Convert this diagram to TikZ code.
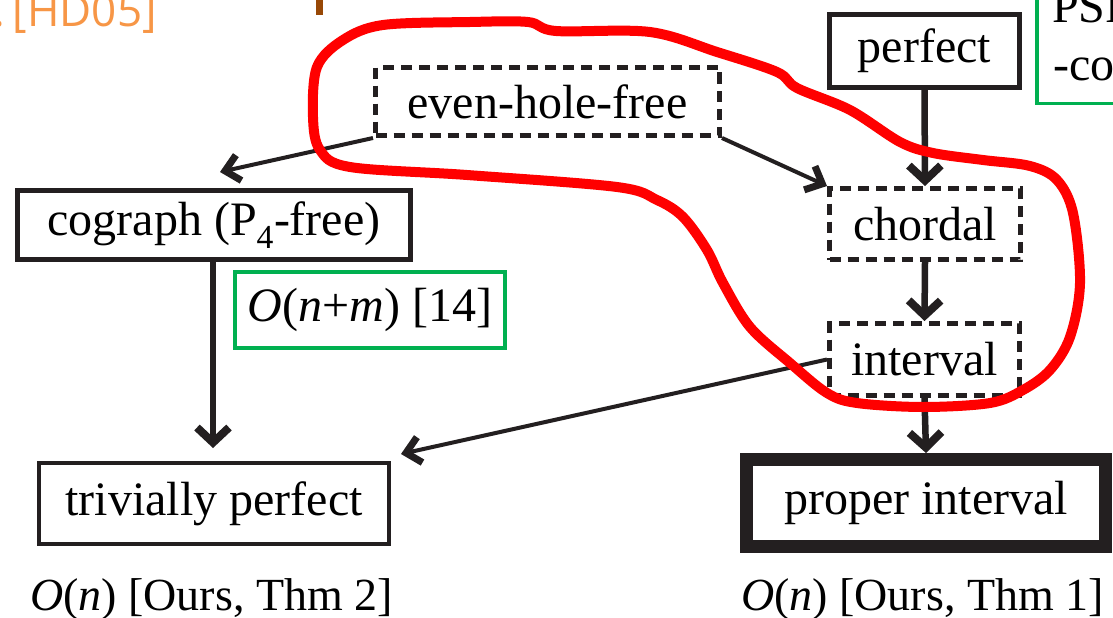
\documentclass[tikz,border=0pt]{standalone}
\usepackage{fontspec}
\setmainfont{Liberation Serif}
\newfontfamily\osans{Open Sans}
\usetikzlibrary{arrows.meta}
\definecolor{ink}{HTML}{231F20}
\definecolor{okgreen}{HTML}{00B050}
\definecolor{hdorange}{HTML}{F79646}
\definecolor{barbrown}{HTML}{984806}
\begin{document}
\begin{tikzpicture}[x=1pt,y=-1pt,
  box/.style={draw=ink, inner sep=0pt, font=\fontsize{48}{57}\selectfont, text=black},
  dbox/.style={box, line width=5pt, dash pattern=on 11pt off 7pt},
  gbox/.style={box, draw=okgreen, line width=3.5pt},
  lbl/.style={inner sep=0pt, anchor=base, font=\fontsize{46}{54}\selectfont, text=black},
  thinarrow/.style={draw=ink, line width=4pt, -{Straight Barb[length=14pt,width=26pt,line width=7pt]}},
  thickarrow/.style={draw=ink, line width=6.5pt, -{Straight Barb[length=15pt,width=32pt,line width=8pt]}},
  loop/.style={draw=red, line width=10pt, line join=round}
]
\useasboundingbox (0,0) rectangle (1113,618);
\fill[white] (0,0) rectangle (1113,618);
\begin{scope}
\clip (0,0) rectangle (1113,618);
% top-left fragments
\node[inner sep=0pt, anchor=base east, text=hdorange, font=\osans\fontsize{44}{52}\selectfont] (ref) at (157,27) {.\,[HD05]};
\fill[barbrown] (316,0) rectangle (323,15);
% top-right green box (cut)
\node[gbox, minimum width=120pt, minimum height=130pt, anchor=south west] (psb) at (1035,105) {};
\node[inner sep=0pt, anchor=base west, font=\fontsize{48}{57}\selectfont] (psa) at (1052,23) {PSPACE};
\node[inner sep=0pt, anchor=base west, font=\fontsize{48}{57}\selectfont] (psc) at (1053,80) {-complete};

% nodes
\node[box, line width=5pt, minimum width=190pt, minimum height=73pt] (perf) at (924.5,51) {perfect};
\node[dbox, minimum width=344pt, minimum height=68pt] (ehf) at (547.5,101.5) {even-hole-free};
\node[dbox, minimum width=191pt, minimum height=71pt] (chord) at (925,224) {chordal};
\node[dbox, minimum width=190pt, minimum height=72pt] (intv) at (924.5,359.5) {interval};
\node[box, line width=13pt, minimum width=359pt, minimum height=87pt] (prop) at (926,503) {proper interval};
\node[box, line width=5pt, minimum width=393pt, minimum height=69pt] (cog) at (214,225) {cograph (P\textsubscript{4}-free)};
\node[gbox, minimum width=270pt, minimum height=76pt] (cogc) at (370,310) {\textit{O}(\textit{n}+\textit{m}) [14]};
\node[box, line width=4pt, minimum width=350pt, minimum height=81pt] (triv) at (214,503.5) {trivially perfect};
\node[lbl] (trivc) at (211.5,610) {\textit{O}(\textit{n}) [Ours, Thm 2]};
\node[lbl] (propc) at (922.5,610) {\textit{O}(\textit{n}) [Ours, Thm 1]};

\coordinate (cogin) at (220,172);
\coordinate (trivin) at (213,448);
\coordinate (trivin2) at (401,454);

% connectors
\draw[thinarrow] (ehf.south west) -- (cogin);
\draw[thinarrow] (ehf.south east) -- (chord.north west);
\draw[thickarrow] (perf.south) -- (chord.north);
\draw[thickarrow] (chord.south) -- (intv.north);
\draw[thickarrow] (intv.south) -- (prop.north);
\draw[thickarrow, line width=5.5pt] (cog.south -| trivin) -- (trivin);
\draw[thinarrow] (intv.west) -- (trivin2);

% red hand-drawn loop
\draw[loop] plot[smooth cycle, tension=0.55] coordinates {
(313,117) (317,67) (343,40) (383,25) (470,22) (528,22) (556,31) (650,32) (717,52) (777,72) (797,88) (850,110) (900,142) (933,153) (983,160) (1030,166) (1057,180) (1073,213) (1080,283) (1070,337) (1050,370) (1023,390) (990,403) (923,407) (857,403) (827,393) (790,363) (750,327) (723,283) (707,250) (683,217) (657,200) (617,187) (467,175) (350,167) (320,150)};
\end{scope}
\end{tikzpicture}
\end{document}
